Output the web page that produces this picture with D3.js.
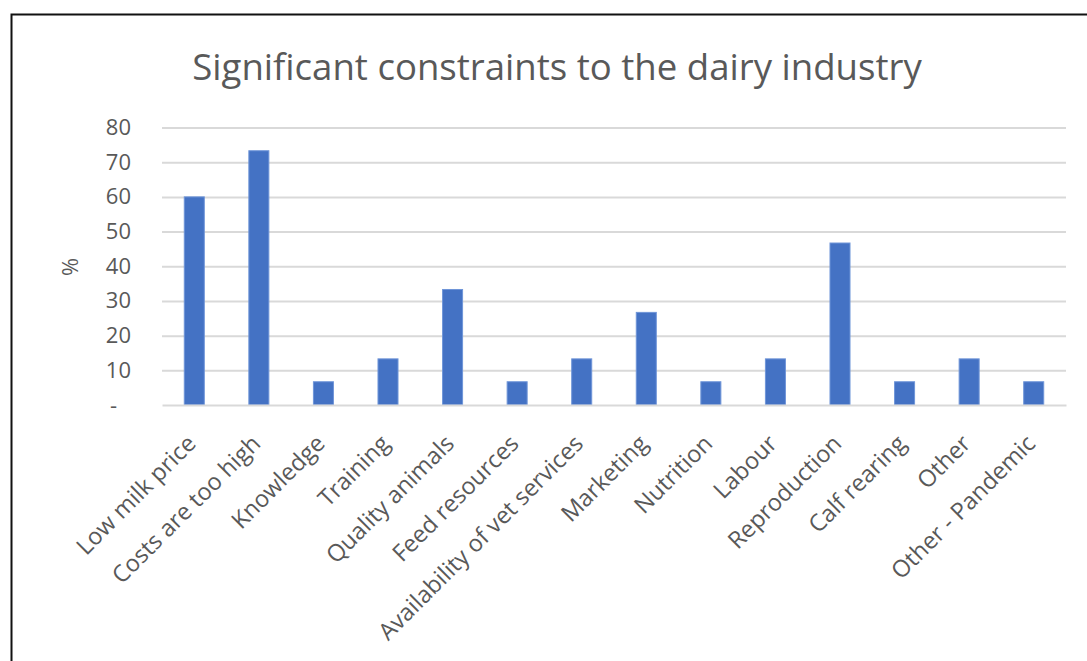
<!DOCTYPE html>
<html>
<head>
<meta charset="utf-8">
<script src="https://cdn.jsdelivr.net/npm/d3@7"></script>
<style>
  body { margin: 0; background: #fff; }
  svg text { font-family: "Open Sans", sans-serif; fill: #595959; }
</style>
</head>
<body>
<div id="chart"></div>
<script>
// data
const categories = ["Low milk price", "Costs are too high", "Knowledge", "Training",
  "Quality animals", "Feed resources", "Availability of vet services", "Marketing",
  "Nutrition", "Labour", "Reproduction", "Calf rearing", "Other", "Other - Pandemic"];
const percentages = [60, 73.3, 6.7, 13.3, 33.3, 6.7, 13.3, 26.7, 6.7, 13.3, 46.7, 6.7, 13.3, 6.7];
const yTicks = [0, 10, 20, 30, 40, 50, 60, 70, 80];
const titleText = "Significant constraints to the dairy industry";
const yLabel = "%";

const width = 1087, height = 661;
const margin = {top: 127.5, right: 21, bottom: 256, left: 162};

const svg = d3.select('#chart').append('svg')
  .attr('width', width)
  .attr('height', height);

// frame of the pasted screenshot (only top and left edges are visible)
svg.append('path')
  .attr('d', `M11.5,${height} V14.5 H${width}`)
  .attr('fill', 'none')
  .attr('stroke', '#111')
  .attr('stroke-width', 2);

const contentWidth = width - margin.left - margin.right;
const contentHeight = height - margin.top - margin.bottom;

const x = d3.scaleBand()
  .domain(categories)
  .range([0, contentWidth])
  .paddingInner(0.69)
  .paddingOuter(0.345);

const y = d3.scaleLinear()
  .domain([0, 80])
  .range([contentHeight, 0]);

const g = svg.append('g')
  .attr('transform', 'translate(' + margin.left + ',' + margin.top + ')');

// gridlines
g.append('g').attr('class', 'grid')
  .call(d3.axisLeft(y).tickValues(yTicks.slice(1)).tickSize(-contentWidth).tickFormat(''))
  .call(s => s.select('.domain').remove())
  .call(s => s.selectAll('line').attr('stroke', '#d9d9d9').attr('stroke-width', 2));

// y axis labels
g.append('g').attr('class', 'axis axis--y')
  .call(d3.axisLeft(y).tickValues(yTicks).tickSize(0).tickPadding(31)
    .tickFormat(d => d === 0 ? '-' : d))
  .call(s => s.select('.domain').remove())
  .call(s => s.selectAll('text').style('font-size', '22px').attr('fill', '#595959'))
  .call(s => s.selectAll('.tick').filter(d => d === 0).select('text').attr('dx', -14));

// bars
g.selectAll('.bar').data(percentages)
  .enter().append('rect')
  .attr('class', 'bar')
  .attr('x', (d, i) => x(categories[i]))
  .attr('y', d => y(d))
  .attr('width', x.bandwidth())
  .attr('height', d => contentHeight - y(d))
  .attr('fill', '#4472c4')
  .attr('stroke', '#6f95d8')
  .attr('stroke-width', 1);

// x axis
g.append('g').attr('class', 'axis axis--x')
  .attr('transform', 'translate(0,' + contentHeight + ')')
  .call(d3.axisBottom(x).tickSize(0).tickPadding(0))
  .call(s => s.select('.domain').attr('stroke', '#d9d9d9').attr('stroke-width', 2))
  .call(s => s.selectAll('text')
    .style('font-size', '23.5px')
    .attr('fill', '#595959')
    .attr('text-anchor', 'end')
    .attr('dy', 0)
    .attr('transform', 'translate(3,40) rotate(-45)'));

// y axis title
svg.append('text')
  .attr('transform', 'translate(78,267) rotate(-90)')
  .attr('text-anchor', 'middle')
  .style('font-size', '22px')
  .text(yLabel);

// chart title
svg.append('text')
  .attr('x', 557)
  .attr('y', 80)
  .attr('text-anchor', 'middle')
  .style('font-size', '36.6px')
  .text(titleText);
</script>
</body>
</html>
